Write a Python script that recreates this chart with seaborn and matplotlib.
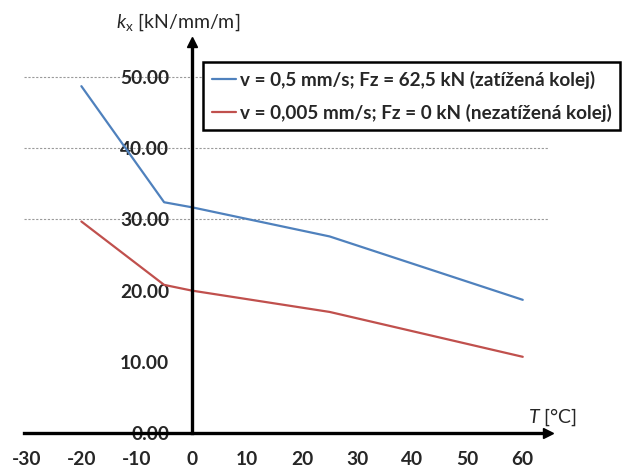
import numpy as np
import pandas as pd
import matplotlib
matplotlib.use("Agg")
import matplotlib.pyplot as plt
import seaborn as sns

# teplota [°C] a tuhost k_x [kN/mm/m]
temp = [-20, -5, 0, 25, 60]
kx_loaded = [48.7, 32.4, 31.7, 27.6, 18.7]
kx_unloaded = [29.7, 20.8, 20.0, 17.0, 10.7]
series = ["v = 0,5 mm/s; Fz = 62,5 kN (zatížená kolej)",
          "v = 0,005 mm/s; Fz = 0 kN (nezatížená kolej)"]
x_ticks = [-30, -20, -10, 0, 10, 20, 30, 40, 50, 60]
y_ticks = [0, 10, 20, 30, 40, 50]
grid_levels = [30, 40, 50]

df = pd.DataFrame({
    "T": temp + temp,
    "kx": kx_loaded + kx_unloaded,
    "serie": [series[0]] * len(temp) + [series[1]] * len(temp),
})

sns.set_style("white")
plt.rcParams["font.family"] = ["Lato", "DejaVu Sans"]
plt.rcParams["mathtext.fontset"] = "custom"
plt.rcParams["mathtext.it"] = "Lato:italic"
plt.rcParams["mathtext.rm"] = "Lato"
plt.rcParams["axes.unicode_minus"] = False

fig = plt.figure(figsize=(6.25, 4.7), dpi=100)
ax = fig.add_axes([0.0384, 0.0787, 0.877 - 0.0384, 0.9106 - 0.0787])

sns.lineplot(data=df, x="T", y="kx", hue="serie", ax=ax,
             palette=["#4F81BD", "#C0504D"], linewidth=1.6, zorder=3)

ax.set_xlim(-30.4, 64.6)
ax.set_ylim(0, 54.9)
ax.set_xticks(x_ticks)
ax.set_yticks(y_ticks)
ax.set_yticklabels([f"{v:.2f}" for v in y_ticks])
ax.set_xlabel("")
ax.set_ylabel("")

# dotted gridlines only at the upper levels
for lvl in grid_levels:
    ax.axhline(lvl, color="#9a9a9a", linestyle=(0, (2, 1.5)), linewidth=0.8, zorder=0)

for side in ["top", "right"]:
    ax.spines[side].set_visible(False)
ax.spines["left"].set_position(("data", 0))
ax.spines["bottom"].set_position(("data", 0))
for side in ["left", "bottom"]:
    ax.spines[side].set_linewidth(2.4)
    ax.spines[side].set_color("black")
    ax.spines[side].set_zorder(4)

ax.plot(1, 0, ">k", markersize=7, transform=ax.get_yaxis_transform(), clip_on=False, zorder=5)
ax.plot(0, 1, "^k", markersize=7, transform=ax.get_xaxis_transform(), clip_on=False, zorder=5)

ax.tick_params(axis="both", direction="inout", length=8.5, width=2, color="black",
               labelsize=13.8)
ax.tick_params(axis="y", pad=12)
ax.tick_params(axis="x", pad=9)
for lab in ax.get_xticklabels() + ax.get_yticklabels():
    lab.set_fontweight("bold")

fig.text(178 / 625, 1 - 22 / 470, r"$\mathit{k}_{\mathrm{x}}$ [kN/mm/m]",
         ha="center", va="center", fontsize=14)
fig.text(552 / 625, 1 - 417 / 470, r"$\mathit{T}$ [°C]",
         ha="center", va="center", fontsize=14)

leg = ax.legend(title=None, loc="upper left", bbox_to_anchor=(203 / 625, 1 - 62 / 470),
                bbox_transform=fig.transFigure, borderaxespad=0, fancybox=False,
                framealpha=1, edgecolor="black", handlelength=1.3, handletextpad=0.2,
                labelspacing=0.8, borderpad=0.45, prop={"size": 13.6, "weight": "bold"})
leg.get_frame().set_linewidth(1.8)
leg.set_zorder(6)

fig.savefig("out.png", dpi=100)
